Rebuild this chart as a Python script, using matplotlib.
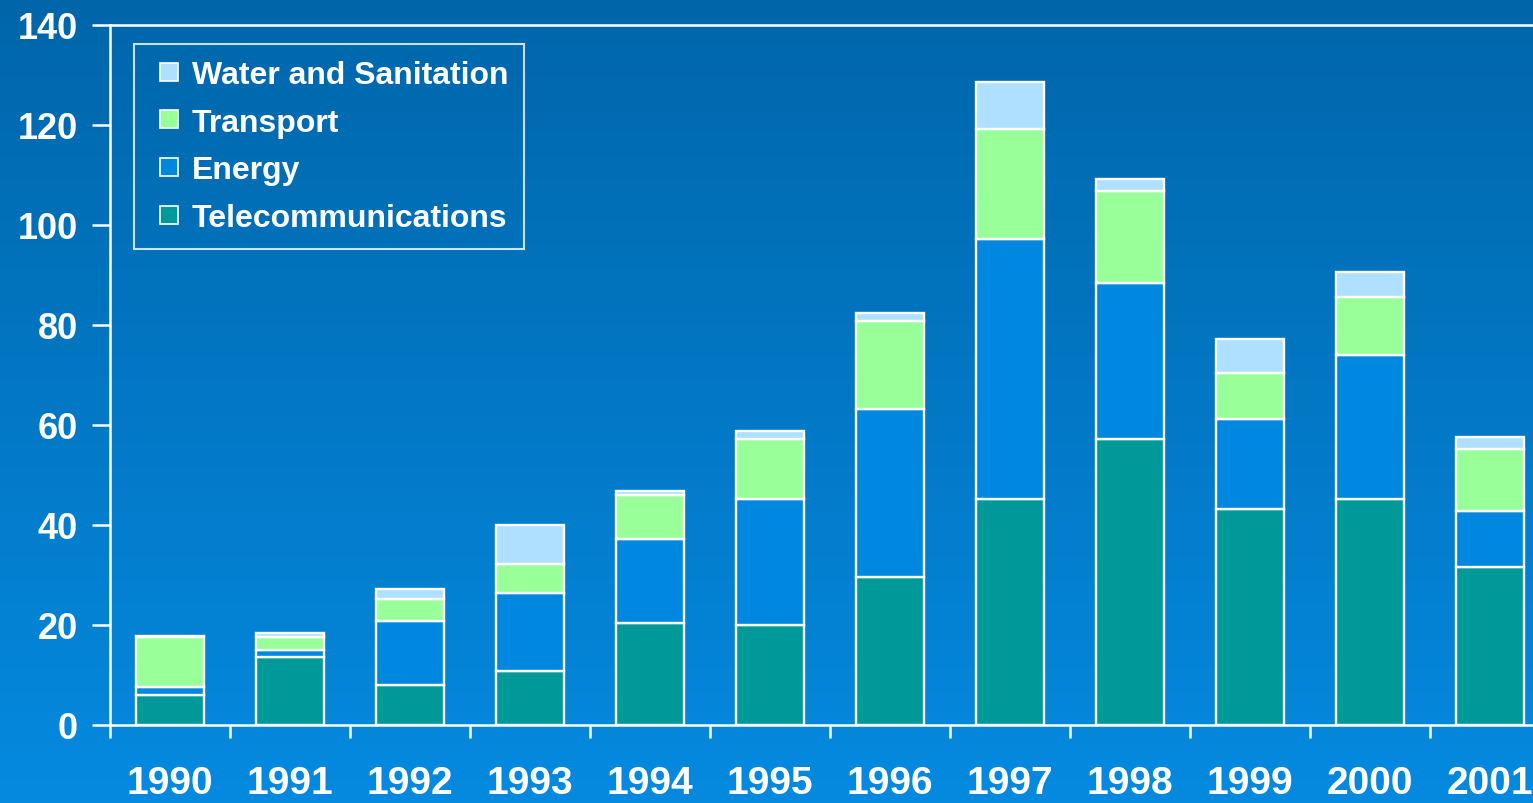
import matplotlib
matplotlib.use('Agg')
import matplotlib.pyplot as plt
import numpy as np
from matplotlib.lines import Line2D

years = ['1990', '1991', '1992', '1993', '1994', '1995', '1996', '1997', '1998', '1999', '2000', '2001']
telecom = [6.0, 13.6, 8.0, 10.8, 20.4, 20.0, 29.6, 45.2, 57.2, 43.2, 45.2, 31.6]
energy = [1.6, 1.4, 12.8, 15.6, 16.8, 25.2, 33.6, 52.0, 31.2, 18.0, 28.8, 11.2]
transport = [10.0, 2.6, 4.4, 5.8, 8.8, 12.0, 17.6, 22.0, 18.4, 9.2, 11.6, 12.4]
water = [0.2, 0.8, 2.0, 7.8, 0.8, 1.6, 1.6, 9.4, 2.4, 6.8, 5.0, 2.4]

names = ['Telecommunications', 'Energy', 'Transport', 'Water and Sanitation']
colors = ['#009999', '#0088E0', '#99FF99', '#B0E0FF']

plt.rcParams['font.family'] = ['Liberation Sans', 'DejaVu Sans']
plt.rcParams['font.weight'] = 'bold'

fig = plt.figure(figsize=(15.33, 8.04), dpi=100)

# background gradient
bg = fig.add_axes([0, 0, 1, 1], zorder=-10)
grad = np.linspace(0, 1, 256).reshape(-1, 1)
top = np.array([0x00, 0x66, 0xAA]) / 255
bot = np.array([0x05, 0x8A, 0xE0]) / 255
img = top[None, None, :] * (1 - grad[:, :, None]) + bot[None, None, :] * grad[:, :, None]
bg.imshow(img, aspect='auto', extent=[0, 1, 0, 1])
bg.axis('off')

ax = fig.add_axes([110 / 1533, 78 / 804, 1440 / 1533, 700 / 804])
ax.patch.set_alpha(0)

x = np.arange(len(years))
bottom = np.zeros(len(years))
for vals, c, n in zip([telecom, energy, transport, water], colors, names):
    ax.bar(x, vals, width=0.56, bottom=bottom, color=c, edgecolor='white', linewidth=1.7, label=n)
    bottom += np.array(vals)

ax.set_xlim(-0.5, 11.5)
ax.set_ylim(0, 140)
ax.set_yticks(range(0, 141, 20))
ax.set_yticklabels([str(v) for v in range(0, 141, 20)], fontsize=26, fontweight='bold', color='white')
ax.set_xticks(x)
ax.set_xticklabels(years, fontsize=28, fontweight='bold', color='white')
ax.set_xticks(np.arange(-0.5, 12, 1), minor=True)
ax.tick_params(axis='x', which='major', length=0, pad=29)
ax.tick_params(axis='x', which='minor', length=9, width=1.8, color='white', direction='out')
ax.tick_params(axis='y', length=13, width=1.8, color='white', pad=10)

for s in ['left', 'bottom', 'top']:
    ax.spines[s].set_color('white')
    ax.spines[s].set_linewidth(1.8)
ax.spines['right'].set_visible(False)

handles = [Line2D([], [], linestyle='none', marker='s', markersize=13,
                  markerfacecolor=c, markeredgecolor='white', markeredgewidth=1.2) for c in colors]
leg = ax.legend(handles[::-1], names[::-1], loc='upper left',
                bbox_to_anchor=(134 / 1533, 1 - 45 / 804), bbox_transform=fig.transFigure,
                fontsize=23, frameon=True, fancybox=False, handlelength=1.2,
                handletextpad=0.1, labelspacing=0.55, borderpad=0.5, borderaxespad=0)
leg.get_frame().set_facecolor('none')
leg.get_frame().set_edgecolor('white')
leg.get_frame().set_linewidth(1.5)
for t in leg.get_texts():
    t.set_color('white')
    t.set_fontweight('bold')

fig.savefig('out.png', dpi=100)
